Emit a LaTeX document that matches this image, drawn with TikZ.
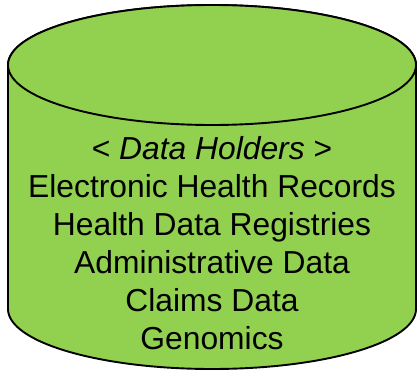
\documentclass[tikz,border=0pt]{standalone}
\usepackage{fontspec}
\setmainfont{Liberation Sans}
\usepackage{xcolor}
\usepackage{tikz}
\definecolor{cDB}{HTML}{92D050}
\definecolor{cLine}{HTML}{000000}
\tikzset{
  dbbody/.style={fill=cDB, draw=cLine, line width=1.9pt},
  dbtxt/.style={font=\fontsize{31.8}{38}\selectfont, text=cLine, align=center, inner sep=0pt}
}
\begin{document}
\begin{tikzpicture}[x=1pt, y=1pt]
\useasboundingbox (0,0) rectangle (419,-371);
% cylinder body, then the top lid over it
\filldraw[dbbody] (8,-65) -- (8,-309)
  arc[start angle=180, end angle=360, x radius=204, y radius=60]
  -- (416,-65)
  arc[start angle=0, end angle=180, x radius=204, y radius=60] -- cycle;
\draw[dbbody] (212,-65) ellipse[x radius=204, y radius=60];
% holder list (base = baseline of last line)
\node[dbtxt, anchor=base] (holders) at (212,-349)
  {< \textit{Data Holders} >\\ Electronic Health Records\\ Health Data Registries\\
   Administrative Data\\ Claims Data\\ Genomics};
\end{tikzpicture}
\end{document}
